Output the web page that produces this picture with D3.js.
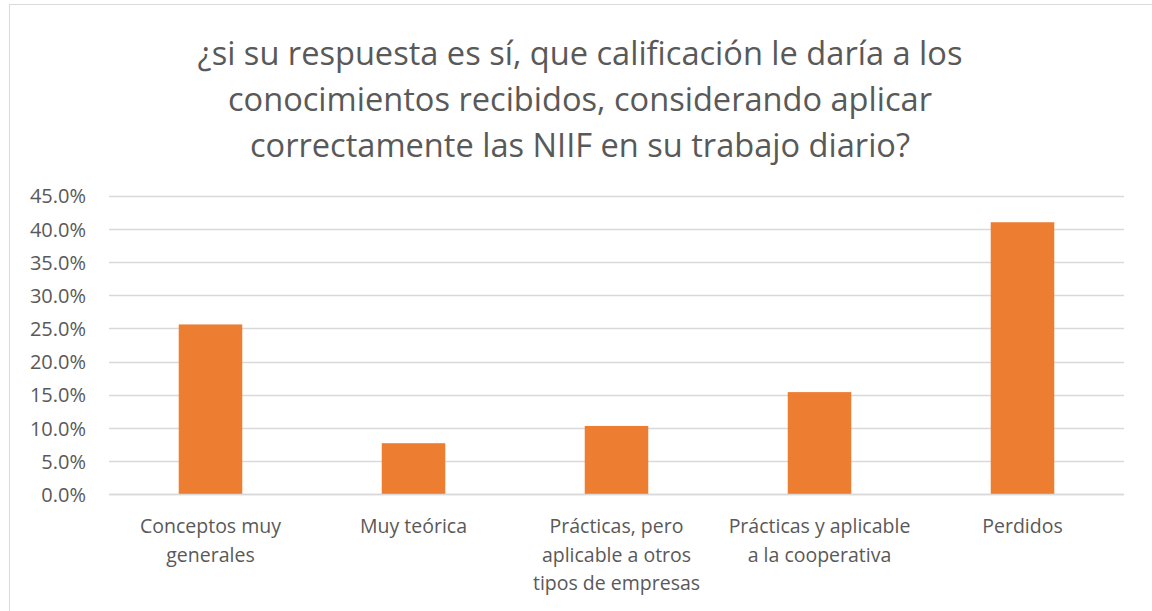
<!DOCTYPE html>
<html><head><meta charset="utf-8">
<script src="https://cdn.jsdelivr.net/npm/d3@7"></script>
<style>
html,body{margin:0;padding:0;background:#fff;}
svg{display:block;}
</style></head>
<body>
<svg id="chart" width="1152" height="611"></svg>
<script>
const titleLines = [
  "¿si su respuesta es sí, que calificación le daría a los",
  "conocimientos recibidos, considerando aplicar",
  "correctamente las NIIF en su trabajo diario?"
];
const categories = [
  ["Conceptos muy", "generales"],
  ["Muy teórica"],
  ["Prácticas, pero", "aplicable a otros", "tipos de empresas"],
  ["Prácticas y aplicable", "a la cooperativa"],
  ["Perdidos"]
];
const values = [0.256, 0.077, 0.103, 0.154, 0.410];
const yTicks = [0, 0.05, 0.10, 0.15, 0.20, 0.25, 0.30, 0.35, 0.40, 0.45];

(function () {
const svg = d3.select("#chart");
const font = "'Open Sans', sans-serif";
const textColor = "#595959";

// chart border
svg.append("rect").attr("x", 9.5).attr("y", 4.5).attr("width", 1160).attr("height", 620)
  .attr("fill", "none").attr("stroke", "#D9D9D9").attr("stroke-width", 1);

// title
const title = svg.append("g").attr("font-family", font).attr("font-size", 32.6)
  .attr("fill", textColor).attr("text-anchor", "middle");
titleLines.forEach((t, i) => {
  title.append("text").attr("x", 580).attr("y", 65 + i * 46).text(t);
});

const pLeft = 109, pRight = 1124, pTop = 195.7, pBottom = 494.3;
const ids = d3.range(values.length);
const x = d3.scaleBand().domain(ids).range([pLeft, pRight]).paddingInner(0.687).paddingOuter(0.3435);
const y = d3.scaleLinear().domain([0, 0.45]).range([pBottom, pTop]);

// gridlines
svg.append("g").selectAll("line").data(yTicks).join("line")
  .attr("x1", pLeft).attr("x2", pRight)
  .attr("y1", d => Math.round(y(d)) + 0.5).attr("y2", d => Math.round(y(d)) + 0.5)
  .attr("stroke", "#D9D9D9").attr("stroke-width", 1.3);

// y axis
const yAxis = d3.axisLeft(y).tickValues(yTicks).tickFormat(d3.format(".1%")).tickSize(0).tickPadding(0);
const yg = svg.append("g").attr("transform", `translate(86,0)`).call(yAxis);
yg.select(".domain").remove();
yg.selectAll("text").attr("font-family", font).attr("font-size", 20).attr("fill", textColor)
  .attr("dy", "0.36em");

// bars
svg.append("g").selectAll("rect").data(values).join("rect")
  .attr("x", (d, i) => x(i)).attr("width", x.bandwidth())
  .attr("y", d => y(d)).attr("height", d => y(0) - y(d))
  .attr("fill", "#ED7D31");

// baseline axis
svg.append("line").attr("x1", pLeft).attr("x2", pRight)
  .attr("y1", Math.round(y(0)) + 0.5).attr("y2", Math.round(y(0)) + 0.5)
  .attr("stroke", "#D9D9D9").attr("stroke-width", 1.5);

// x labels
const xg = svg.append("g").attr("font-family", font).attr("font-size", 19.5)
  .attr("fill", textColor).attr("text-anchor", "middle");
categories.forEach((lines, i) => {
  const cx = x(i) + x.bandwidth() / 2;
  lines.forEach((l, j) => {
    xg.append("text").attr("x", cx).attr("y", 533 + j * 28.5).text(l);
  });
});
})();
</script>
</body></html>
